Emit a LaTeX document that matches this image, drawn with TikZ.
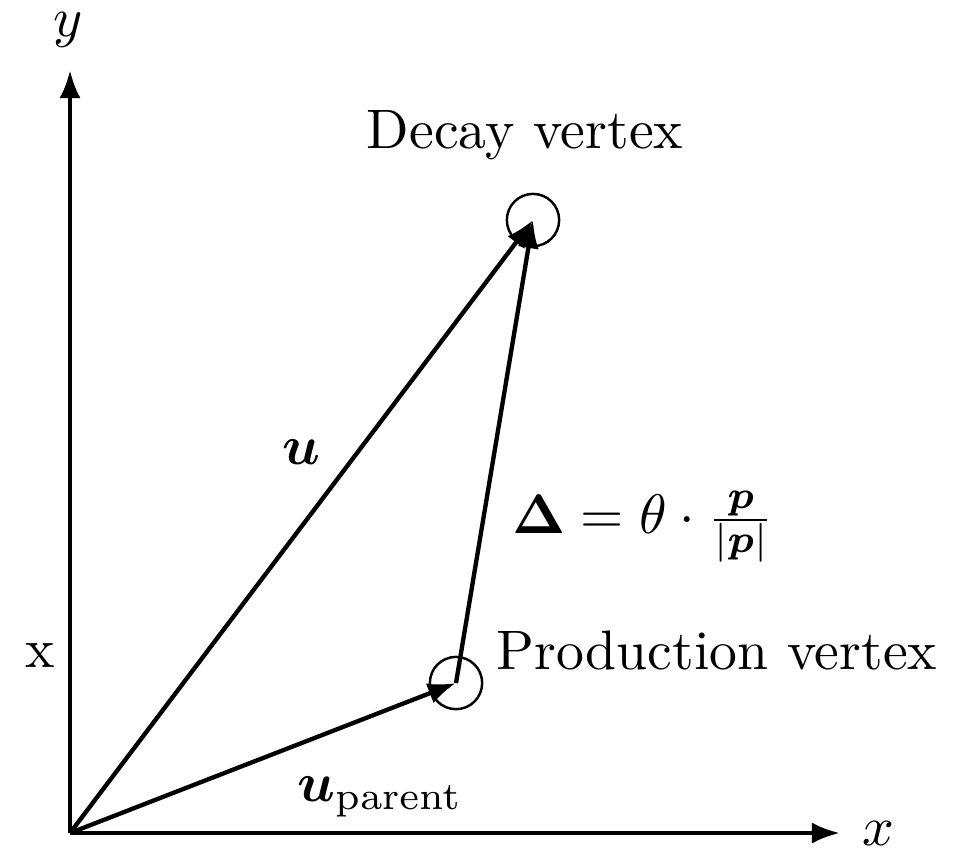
\documentclass[tikz,border=0pt]{standalone}
\usepackage{bm}
\usetikzlibrary{arrows.meta}
\begin{document}
\begin{tikzpicture}[x=0.00632cm,y=-0.00632cm,
  vec/.style={line width=0.78pt,-{Latex[length=5.05pt,width=3.8pt]}},
  vtx/.style={draw,circle,line width=0.44pt,minimum size=9.4pt,inner sep=0pt},
  lbl/.style={inner sep=0pt}]
\useasboundingbox (0,0) rectangle (968,856);
\coordinate (O) at (70,833);
\coordinate (ytip) at (70,70);
\coordinate (xtip) at (840,833);
\node[vtx] (dv) at (533,220) {};
\node[vtx] (pv) at (456,683) {};
\draw[vec] (O) -- (ytip);
\draw[vec] (O) -- (xtip);
\draw[vec] (O) -- (dv.center);
\draw[vec] (O) -- (pv.center);
\draw[vec] (pv.center) -- (dv.center);
\node[lbl] (ylab) at (68,30) {$y$};
\node[lbl] (xlab) at (878,833) {$x$};
\node[lbl] (xx) at (40,655) {x};
\node[lbl] (dlab) at (525,135) {Decay vertex};
\node[lbl] (plab) at (717,650) {Production vertex};
\node[lbl] (ulab) at (301,452) {$\bm{u}$};
\node[lbl] (uplab) at (380,797) {$\bm{u}_{\mathrm{parent}}$};
\node[lbl] (delta) at (643,527) {$\bm{\Delta}=\theta\cdot\frac{\bm{p}}{|\bm{p}|}$};
\end{tikzpicture}
\end{document}
